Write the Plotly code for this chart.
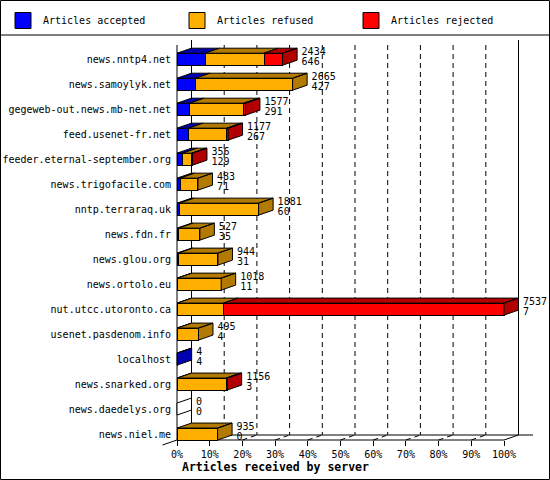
import plotly.graph_objects as go

# Articles received by server (innreport style 3D bars)
servers = [
    "news.nntp4.net", "news.samoylyk.net", "gegeweb-out.news.mb-net.net",
    "feed.usenet-fr.net", "feeder.eternal-september.org", "news.trigofacile.com",
    "nntp.terraraq.uk", "news.fdn.fr", "news.glou.org", "news.ortolo.eu",
    "nut.utcc.utoronto.ca", "usenet.pasdenom.info", "localhost",
    "news.snarked.org", "news.daedelys.org", "news.niel.me",
]
offered = [2434, 2665, 1577, 1177, 356, 483, 1881, 527, 944, 1018, 7537, 495, 4, 1156, 0, 935]
accepted = [646, 427, 291, 267, 129, 71, 60, 35, 31, 11, 7, 4, 4, 3, 0, 0]
refused = [1360, 2238, 1250, 880, 210, 412, 1821, 492, 913, 1007, 1063, 491, 0, 1129, 0, 935]
rejected = [428, 0, 36, 30, 17, 0, 0, 0, 0, 0, 6467, 0, 0, 24, 0, 0]

series_names = ["Articles accepted", "Articles refused", "Articles rejected"]
front_colors = ["#0000ff", "#ffaf00", "#ff0000"]
dark_colors = ["#0000b2", "#b27a00", "#b20000"]
x_ticks = list(range(0, 101, 10))

FONT = "DejaVu Sans Mono"

# pixel geometry of the picture
PLOT_L, PLOT_R, PLOT_T, PLOT_B = 150, 548, 38, 446
X0_PX, X100_PX = 177, 504
ROW0_PX, ROW_PX = 59.2, 24.99
px_per_unit = (X100_PX - X0_PX) / 100.0
DX = 14.5 / px_per_unit          # depth, x units
DY = 5.0 / ROW_PX                # depth, row units
HALF = 0.24                      # half bar thickness
FLOOR = (440 - ROW0_PX) / ROW_PX
TOP = (45 - ROW0_PX) / ROW_PX


def paper_x(px):
    return (px - PLOT_L) / (PLOT_R - PLOT_L)


def paper_y(py):
    return (PLOT_B - py) / (PLOT_B - PLOT_T)


max_offered = max(offered)


def pct(v):
    return v * 100.0 / max_offered


rows = list(range(len(servers)))
series = [accepted, refused, rejected]

fig = go.Figure()

# front faces
for name, vals, col in zip(series_names, series, front_colors):
    fig.add_trace(go.Bar(
        y=rows, x=[pct(v) for v in vals], orientation="h", width=2 * HALF,
        marker=dict(color=col, line=dict(color="black", width=1)),
        name=name, showlegend=False, hoverinfo="skip",
    ))

# top and side faces
face_x = [[], [], []]
face_y = [[], [], []]
empty_x, empty_y = [], []
for i in rows:
    vals = [s[i] for s in series]
    nonzero = [k for k, v in enumerate(vals) if v > 0]
    if not nonzero:
        empty_x += [0, DX, DX, 0, 0, None]
        empty_y += [i - HALF, i - HALF - DY, i + HALF - DY, i + HALF, i - HALF, None]
        continue
    cum = 0.0
    for k, v in enumerate(vals):
        if v <= 0:
            continue
        a, b = cum, cum + pct(v)
        cum = b
        face_x[k] += [a, b, b + DX, a + DX, a, None]
        face_y[k] += [i - HALF, i - HALF, i - HALF - DY, i - HALF - DY, i - HALF, None]
        if k == nonzero[-1]:
            face_x[k] += [b, b + DX, b + DX, b, b, None]
            face_y[k] += [i - HALF, i - HALF - DY, i + HALF - DY, i + HALF, i - HALF, None]

for k in range(3):
    fig.add_trace(go.Scatter(
        x=face_x[k], y=face_y[k], mode="lines", fill="toself",
        fillcolor=dark_colors[k], line=dict(color="black", width=1),
        showlegend=False, hoverinfo="skip",
    ))
fig.add_trace(go.Scatter(
    x=empty_x, y=empty_y, mode="lines", fill="toself", fillcolor="white",
    line=dict(color="black", width=1), showlegend=False, hoverinfo="skip",
))

# numbers next to bars
label_x = [pct(t) + 19 / px_per_unit for t in offered]
fig.add_trace(go.Scatter(
    x=label_x, y=[i - 0.28 for i in rows], mode="text",
    text=[str(v) for v in offered], textposition="middle right",
    textfont=dict(family=FONT, size=10, color="black"),
    cliponaxis=False, showlegend=False, hoverinfo="skip",
))
fig.add_trace(go.Scatter(
    x=label_x, y=[i + 0.13 for i in rows], mode="text",
    text=[str(v) for v in accepted], textposition="middle right",
    textfont=dict(family=FONT, size=10, color="black"),
    cliponaxis=False, showlegend=False, hoverinfo="skip",
))

# legend entries
for name, col in zip(series_names, front_colors):
    fig.add_trace(go.Scatter(
        x=[None], y=[None], mode="markers", name=name,
        marker=dict(symbol="square", size=16, color=col,
                    line=dict(color="black", width=1)),
    ))

# 3D frame: walls, floor and grid
line = dict(color="black", width=1)
dash = dict(color="black", width=1, dash="5px,4px")
shapes = [
    dict(type="line", x0=0, x1=0, y0=TOP, y1=FLOOR, line=line),
    dict(type="line", x0=DX, x1=DX, y0=TOP - DY, y1=FLOOR - DY, line=line),
    dict(type="line", x0=100 + DX, x1=100 + DX, y0=TOP - DY, y1=FLOOR - DY, line=line),
    dict(type="line", x0=DX, x1=100 + 2 * DX, y0=FLOOR - DY, y1=FLOOR - DY, line=line),
    dict(type="line", x0=-DX, x1=0, y0=FLOOR + DY, y1=FLOOR, line=line),
    dict(type="line", x0=0, x1=100, y0=FLOOR, y1=FLOOR, line=line),
    dict(type="line", x0=100, x1=100 + DX, y0=FLOOR, y1=FLOOR - DY, line=line),
]
for v in x_ticks[1:-1]:
    shapes.append(dict(type="line", x0=v + DX, x1=v + DX, y0=TOP, y1=FLOOR - DY, line=dash))
    shapes.append(dict(type="line", x0=v, x1=v + DX, y0=FLOOR, y1=FLOOR - DY, line=dash))
for s in shapes:
    s.update(xref="x", yref="y", layer="below")

# outer border and legend separator
shapes.append(dict(type="rect", xref="paper", yref="paper",
                   x0=paper_x(0.5), x1=paper_x(549.5), y0=paper_y(479.5), y1=paper_y(0.5),
                   line=line, layer="above"))
shapes.append(dict(type="line", xref="paper", yref="paper",
                   x0=paper_x(0), x1=paper_x(550), y0=paper_y(35), y1=paper_y(35),
                   line=line, layer="above"))

fig.update_layout(
    width=550, height=480,
    margin=dict(l=PLOT_L, r=550 - PLOT_R, t=PLOT_T, b=480 - PLOT_B, pad=0, autoexpand=False),
    barmode="stack",
    plot_bgcolor="white", paper_bgcolor="white",
    font=dict(family=FONT, size=10, color="black"),
    showlegend=True,
    legend=dict(orientation="h", traceorder="normal",
                x=paper_x(3), y=paper_y(6), xanchor="left", yanchor="top",
                entrywidth=129, entrywidthmode="pixels", itemsizing="trace",
                bgcolor="rgba(0,0,0,0)", font=dict(family=FONT, size=10)),
    xaxis=dict(range=[(PLOT_L - X0_PX) / px_per_unit, (PLOT_R - X0_PX) / px_per_unit],
               anchor="free", position=paper_y(440),
               tickvals=x_ticks, ticktext=[f"{v}%" for v in x_ticks],
               ticks="outside", ticklen=5, tickcolor="black",
               showgrid=False, zeroline=False, showline=False, fixedrange=True),
    yaxis=dict(range=[(PLOT_B - ROW0_PX) / ROW_PX, (PLOT_T - ROW0_PX) / ROW_PX],
               anchor="free", position=paper_x(X0_PX),
               tickvals=rows, ticktext=servers,
               ticks="outside", ticklen=4, tickcolor="rgba(0,0,0,0)",
               showgrid=False, zeroline=False, showline=False, fixedrange=True),
    shapes=shapes,
    annotations=[dict(
        text="<b>Articles received by server</b>", xref="paper", yref="paper",
        x=paper_x(180), y=paper_y(467), xanchor="left", yanchor="middle",
        showarrow=False, font=dict(family=FONT, size=11.5, color="black"),
    )],
)

# page body margin would shift the figure by 8px
fig.write_html("out.html", config={"displayModeBar": False},
               post_script="document.body.style.margin = '0';")
